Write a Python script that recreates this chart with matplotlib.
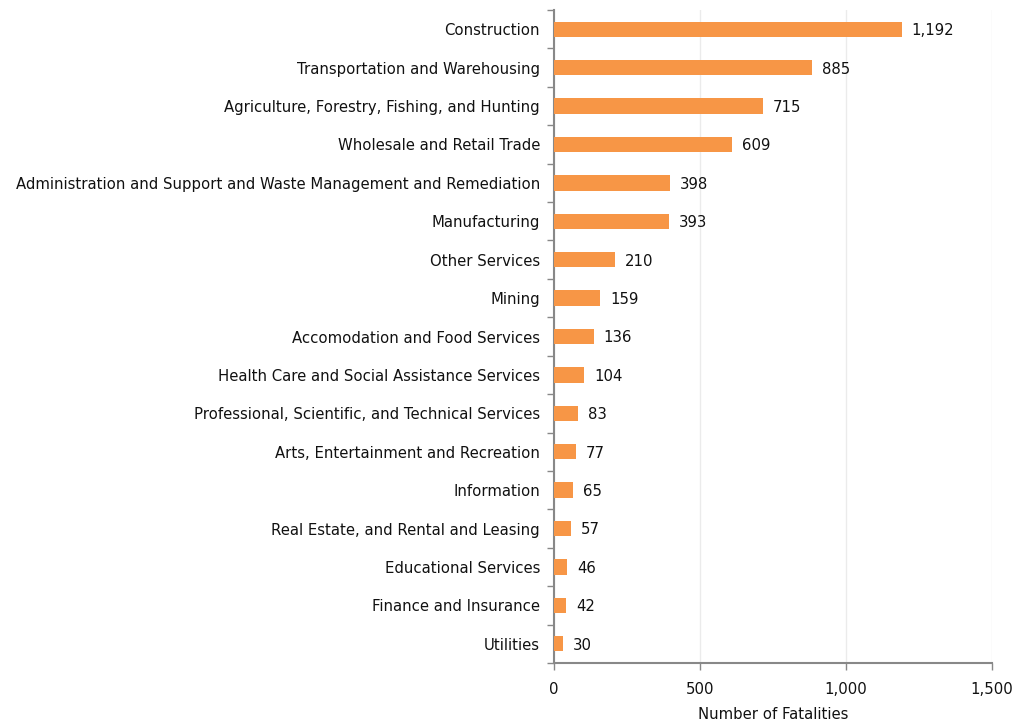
import matplotlib
matplotlib.use("Agg")
import matplotlib.pyplot as plt
from matplotlib.ticker import FuncFormatter

categories = [
    "Construction",
    "Transportation and Warehousing",
    "Agriculture, Forestry, Fishing, and Hunting",
    "Wholesale and Retail Trade",
    "Administration and Support and Waste Management and Remediation",
    "Manufacturing",
    "Other Services",
    "Mining",
    "Accomodation and Food Services",
    "Health Care and Social Assistance Services",
    "Professional, Scientific, and Technical Services",
    "Arts, Entertainment and Recreation",
    "Information",
    "Real Estate, and Rental and Leasing",
    "Educational Services",
    "Finance and Insurance",
    "Utilities",
]
values = [1192, 885, 715, 609, 398, 393, 210, 159, 136, 104, 83, 77, 65, 57, 46, 42, 30]
xticks = [0, 500, 1000, 1500]
xlabel = "Number of Fatalities"

plt.rcParams['font.family'] = ['DejaVu Sans']
fs = 10.7
fig = plt.figure(figsize=(10.31, 7.24), dpi=100)
ax = fig.add_axes([554/1031, 1 - 663/724, (992-554)/1031, (663-10)/724])

n = len(categories)
ypos = list(range(n))
ax.barh(ypos, values, height=0.4, color="#F79646", zorder=3)
ax.set_ylim(n - 0.5, -0.5)
ax.set_xlim(0, 1500)
ax.set_yticks(ypos)
ax.set_yticklabels(categories, fontsize=fs, color="#111111")
ax.tick_params(axis='y', length=0, pad=10)
ax.set_yticks([i - 0.5 for i in range(n + 1)], minor=True)
ax.tick_params(axis='y', which='minor', length=5, color="#888888", width=1)
ax.set_xticks(xticks)
ax.xaxis.set_major_formatter(FuncFormatter(lambda v, p: f"{int(v):,}"))
ax.tick_params(axis='x', length=5, color="#888888", width=1, labelsize=fs, labelcolor="#111111", pad=9)
ax.grid(axis='x', color="#EBEBEB", linewidth=1, zorder=0)
for s in ['top', 'right']:
    ax.spines[s].set_visible(False)
for s in ['left', 'bottom']:
    ax.spines[s].set_color("#888888")
    ax.spines[s].set_linewidth(1.5)
ax.set_xlabel(xlabel, fontsize=fs, color="#111111", labelpad=7)

for y, v in zip(ypos, values):
    ax.annotate(f"{v:,}", (v, y), xytext=(7, -1), textcoords='offset points',
                va='center', ha='left', fontsize=fs, color="#111111")

fig.savefig("out.png", dpi=100)
